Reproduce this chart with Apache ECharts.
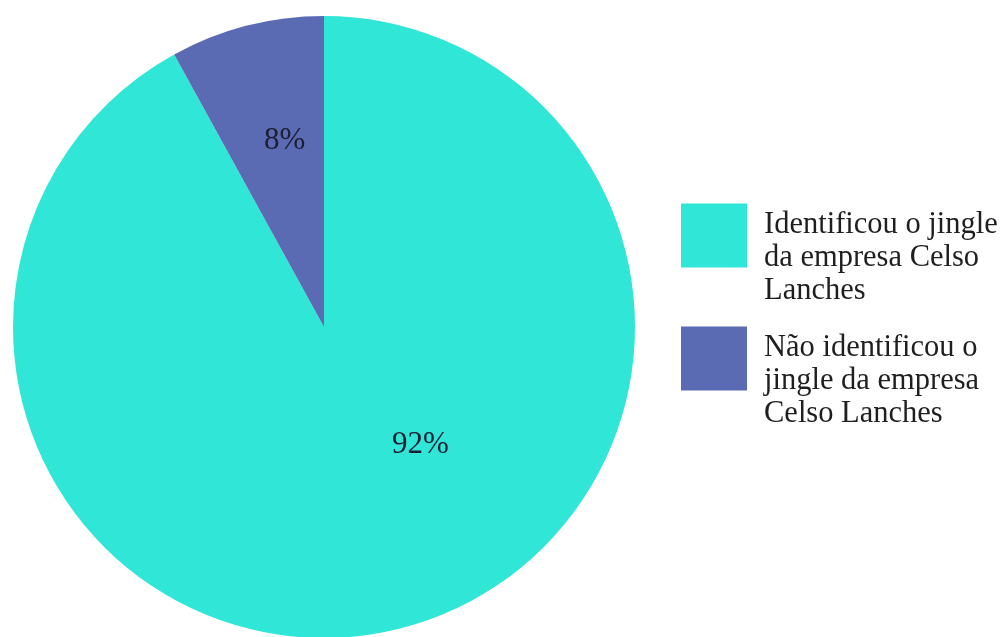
<!DOCTYPE html>
<html>
<head>
<meta charset="utf-8">
<script src="https://cdn.jsdelivr.net/npm/echarts@6/dist/echarts.min.js"></script>
<style>
  html, body { margin: 0; padding: 0; background: #ffffff; }
  #chart { width: 1003px; height: 637px; }
</style>
</head>
<body>
<div id="chart"></div>
<script>
// Survey answers: did the respondent recognise the jingle?
const categories = [
  'Identificou o jingle da empresa Celso Lanches',
  'Não identificou o jingle da empresa Celso Lanches'
];
const values = [92, 8];
const legendLabels = [
  'Identificou o jingle\nda empresa Celso\nLanches',
  'Não identificou o\njingle da empresa\nCelso Lanches'
];
const colors = ['#2FE6D7', '#5A6BB4'];

const serif = '"Liberation Serif", "Times New Roman", serif';
const labelOffsets = [[57, -36], [0, -33]];

const chart = echarts.init(document.getElementById('chart'), null, { renderer: 'canvas' });

// Each legend entry sits on its own; a spacer line pushes the text block
// a little below the colour swatch.
const legendBase = {
  orient: 'vertical',
  left: 681,
  padding: 0,
  itemWidth: 66,
  itemHeight: 64,
  icon: 'rect',
  selectedMode: false,
  textStyle: {
    fontFamily: serif,
    fontSize: 30.5,
    lineHeight: 33,
    color: '#1f1f1f',
    padding: [0, 0, 0, 12],
    rich: {
      s: { fontSize: 1, lineHeight: 44, height: 44 }
    }
  },
  formatter: name => '{s| }\n' + legendLabels[categories.indexOf(name)]
};

chart.setOption({
  backgroundColor: '#ffffff',
  animation: false,
  legend: [
    Object.assign({}, legendBase, { top: 164, data: [categories[0]] }),
    Object.assign({}, legendBase, { top: 287, data: [categories[1]] })
  ],
  series: [{
    type: 'pie',
    center: [324, 327],
    radius: 311,
    startAngle: 90,
    clockwise: true,
    avoidLabelOverlap: false,
    itemStyle: { borderWidth: 0 },
    label: {
      show: true,
      position: 'inner',
      fontFamily: serif,
      fontSize: 31,
      color: '#1c1f33',
      formatter: p => p.value + '%'
    },
    labelLine: { show: false },
    data: categories.map((name, i) => ({
      name: name,
      value: values[i],
      itemStyle: { color: colors[i] },
      label: { offset: labelOffsets[i] }
    }))
  }]
});
</script>
</body>
</html>
